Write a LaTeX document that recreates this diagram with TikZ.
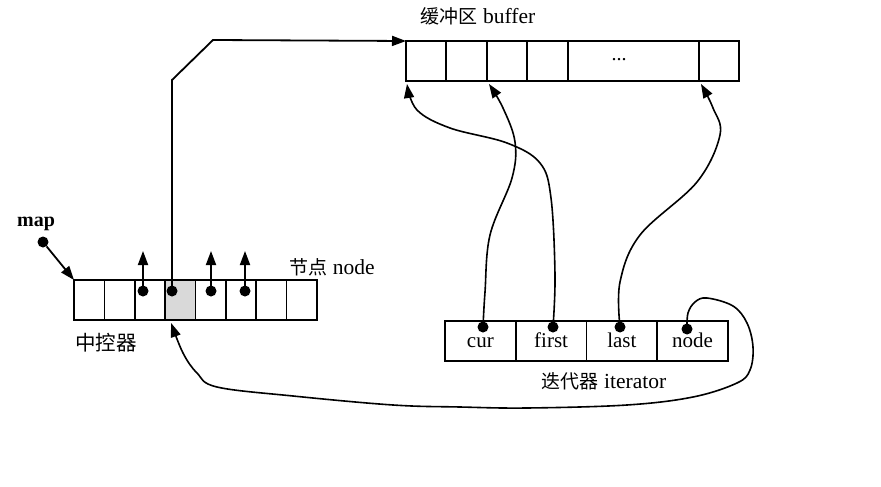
\documentclass[tikz,border=0pt]{standalone}
\usepackage{fontspec}
\setmainfont{Liberation Serif}
\newfontfamily\cjk{Noto Sans CJK SC}
\usetikzlibrary{arrows.meta}
\begin{document}
\begin{tikzpicture}[x=1pt,y=-1pt,
  cell/.style={draw, line width=1.6pt, minimum height=40pt, inner sep=0pt, outer sep=0pt, anchor=north west},
  dotc/.style={circle, fill, inner sep=0pt, minimum size=11pt},
  arr/.style={line width=1.8pt, -{Triangle[length=14pt,width=10pt]}},
  cur/.style={line width=1.6pt, -{Triangle[length=14pt,width=10pt]}},
  lbl/.style={font=\fontsize{21.5}{23}\selectfont, inner sep=0pt},
  zhs/.style={font=\cjk\fontsize{19}{21}\selectfont},
  zh/.style={font=\cjk\fontsize{20.5}{22}\selectfont, inner sep=0pt},
  celltext/.style={font=\fontsize{21}{23}\selectfont, text height=13pt, text depth=0pt}
]
\useasboundingbox (0,0) rectangle (881,487);

% map array
\foreach \i in {1,...,8}{
  \node[cell, minimum width=30.375pt] (m\i) at ({74+(\i-1)*30.375},280) {};
}
\fill[gray!30] (m4.north west) rectangle (m4.south east);
\draw[line width=1.6pt] (m4.north west) rectangle (m4.south east);

% buffer
\node[cell, minimum width=40pt] (b1) at (406,41) {};
\node[cell, minimum width=41pt] (b2) at (b1.north east) {};
\node[cell, minimum width=40pt] (b3) at (b2.north east) {};
\node[cell, minimum width=41pt] (b4) at (b3.north east) {};
\node[cell, minimum width=131pt] (b5) at (b4.north east) {};
\node[cell, minimum width=40pt] (b6) at (b5.north east) {};
\node[font=\fontsize{20}{20}\selectfont, inner sep=0pt] (ell) at (619,60) {...};

% iterator
\node[cell, celltext, minimum width=70.75pt] (it1) at (445,321) {cur};
\node[cell, celltext, minimum width=70.75pt] (it2) at (it1.north east) {first};
\node[cell, celltext, minimum width=70.75pt] (it3) at (it2.north east) {last};
\node[cell, celltext, minimum width=70.75pt] (it4) at (it3.north east) {node};

% labels
\node[lbl] (buflbl) at (478,16) {{\cjk\fontsize{19}{21}\selectfont 缓冲区} buffer};
\node[lbl, font=\bfseries\fontsize{20}{22}\selectfont] (maplbl) at (36,224) {map};
\node[lbl] (nodelbl) at (332,267) {{\cjk\fontsize{19}{21}\selectfont 节点} node};
\node[zh] (ctrllbl) at (106,343) {中控器};
\node[lbl] (itlbl) at (604,381) {{\cjk\fontsize{19}{21}\selectfont 迭代器} iterator};

% dots
\node[dotc] (mapdot) at (43,242) {};
\node[dotc] (d3) at (143,291) {};
\node[dotc] (d4) at (172,291) {};
\node[dotc] (d5) at (211,291) {};
\node[dotc] (d6) at (245,291) {};
\node[dotc] (icur) at (483,327) {};
\node[dotc] (ifirst) at (553,327) {};
\node[dotc] (ilast) at (620,327) {};
\node[dotc] (inode) at (687,329) {};

% free ends and bends
\coordinate (t3) at (143,251);
\coordinate (t5) at (211,251);
\coordinate (t6) at (245,251);
\coordinate (bend1) at (172,80);
\coordinate (bend2) at (213,40);
\coordinate (b1top) at (406,41);

% connectors
\draw[arr] (mapdot) -- (m1.north west);
\draw[arr] (d3.center) -- (t3);
\draw[arr] (d5.center) -- (t5);
\draw[arr] (d6.center) -- (t6);
\draw[arr] (d4.center) -- (bend1) -- (bend2) -- (b1top);

\draw[cur] plot[smooth, tension=0.6] coordinates {(ifirst.center) (555,275) (551,198) (540,163) (507,143) (450,128) (417,110) ([shift={(1,3)}]b1.south west)};
\draw[cur] plot[smooth, tension=0.6] coordinates {(icur.center) (485,292) (490,235) (512,178) (515,142) (503,108) ([shift={(2,3)}]b3.south west)};
\draw[cur] plot[smooth, tension=0.6] coordinates {(ilast.center) (620,282) (640,235) (697,182) (720,135) (713,108) ([shift={(2,3)}]b6.south west)};
\draw[cur] plot[smooth, tension=0.6] coordinates {(inode.center) (688,313) (695,302) (707,298) (733,306) (747,323) (753,347) (750,370) (737,383) (693,397) (627,405) (527,408) (460,407) (393,405) (293,396) (217,387) (197,373) (183,353) ([shift={(6,3)}]m4.south west)};
\end{tikzpicture}
\end{document}
